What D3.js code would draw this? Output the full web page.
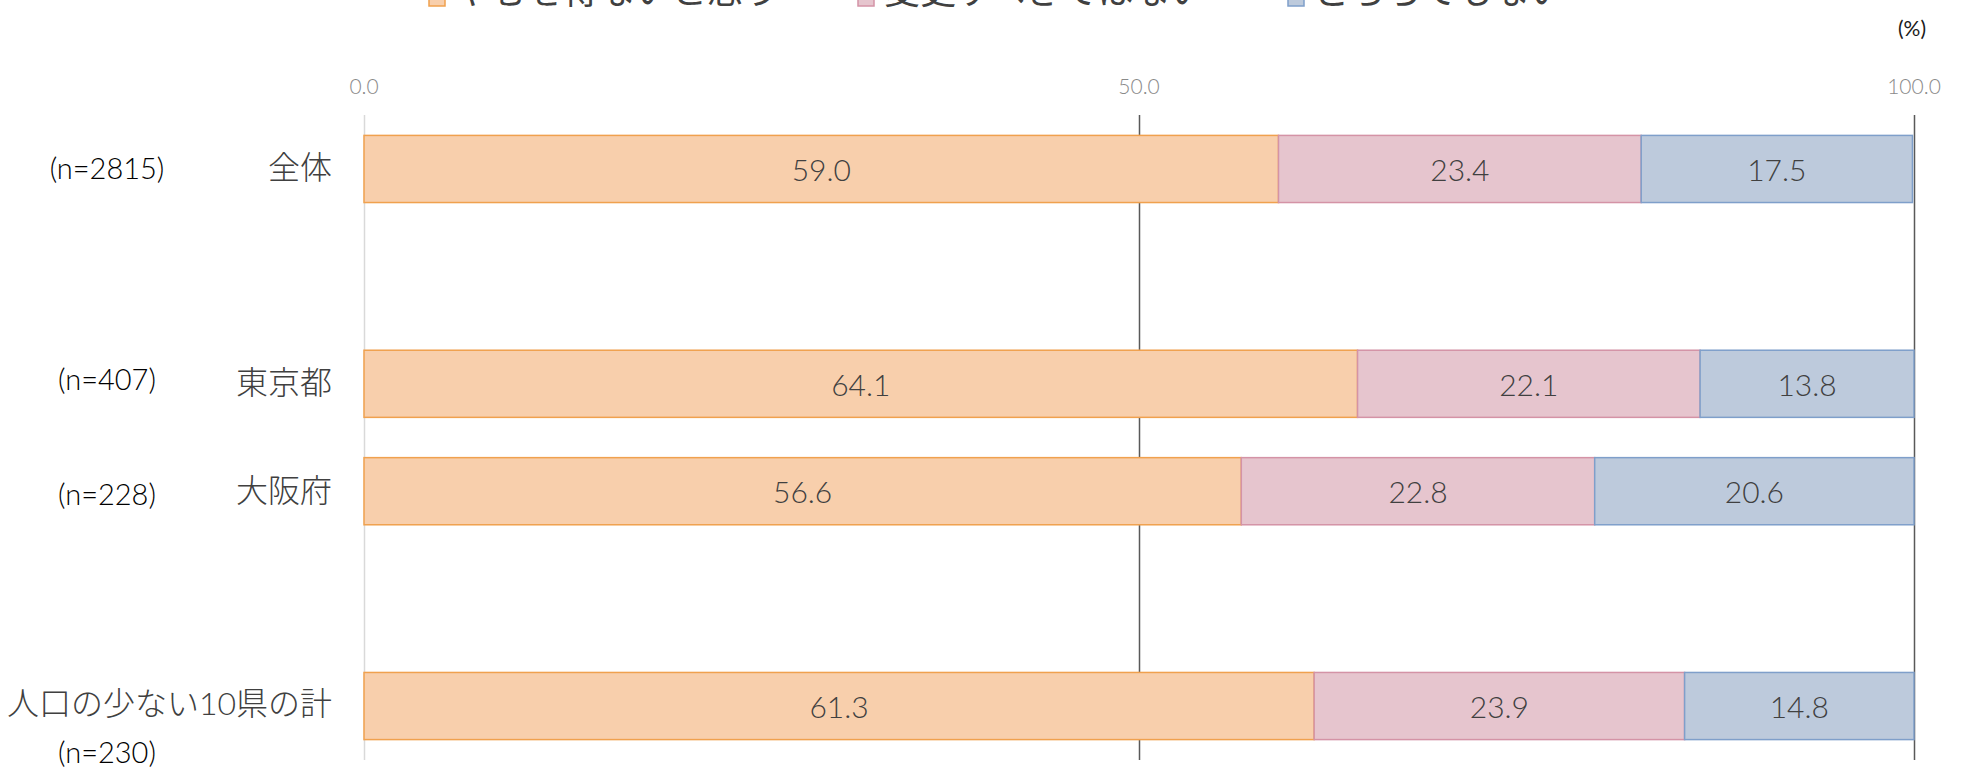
<!DOCTYPE html>
<html>
<head>
<meta charset="utf-8">
<script src="https://cdn.jsdelivr.net/npm/d3@7"></script>
<style>
  body { margin: 0; background: #fff; }
  svg { display: block; font-family: Lato, 'Noto Sans CJK JP', sans-serif; }
</style>
</head>
<body>
<svg id="chart" width="1966" height="769"></svg>
<script>
// rows (gaps are empty slots in the chart)
const rows = ['全体', 'gap1', '東京都', '大阪府', 'gap2', '人口の少ない10県の計'];
const sampleSizes = ['(n=2815)', '', '(n=407)', '(n=228)', '', '(n=230)'];
const seriesNames = ['やむを得ないと思う', '変更すべきではない', 'どちらでもない'];
const acceptValues = [59.0, null, 64.1, 56.6, null, 61.3];
const rejectValues = [23.4, null, 22.1, 22.8, null, 23.9];
const neutralValues = [17.5, null, 13.8, 20.6, null, 14.8];
const ticks = [0, 50, 100];

const fills = ['#f8cfac', '#e6c5ce', '#bdcadc'];
const strokes = ['#f0a14e', '#d493a6', '#7f9fca'];

const svg = d3.select('#chart');
const margin = { top: 115, left: 364, right: 52, bottom: 9 };
const width = 1966 - margin.left - margin.right;
const height = 769 - margin.top - margin.bottom;

const chart = svg.append('g')
    .attr('transform', `translate(${margin.left}, ${margin.top})`);

const x = d3.scaleLinear().domain([0, 100]).range([0, width]);
const y = d3.scaleBand().domain(rows).range([0, 645]).paddingInner(0.375).paddingOuter(0.19);

// grid lines
chart.selectAll('.grid')
    .data(ticks)
    .enter()
    .append('line')
    .attr('x1', d => x(d) + 0.5)
    .attr('x2', d => x(d) + 0.5)
    .attr('y1', 0)
    .attr('y2', height)
    .attr('stroke', d => d === 0 ? '#d9d9d9' : '#595959')
    .attr('stroke-width', 1.5);

// tick labels
chart.selectAll('.tick-label')
    .data(ticks)
    .enter()
    .append('text')
    .attr('x', d => x(d))
    .attr('y', -30)
    .attr('text-anchor', 'middle')
    .attr('dominant-baseline', 'central')
    .attr('fill', '#8a8a8a')
    .attr('font-size', 21)
    .attr('font-weight', 300)
    .text(d => d3.format('.1f')(d));

const table = rows.map((r, i) => ({
    row: r, a: acceptValues[i], b: rejectValues[i], c: neutralValues[i]
})).filter(d => d.a !== null);

const stack = d3.stack().keys(['a', 'b', 'c'])(table);

const layers = chart.selectAll('.layer')
    .data(stack)
    .enter()
    .append('g')
    .attr('fill', (d, i) => fills[i])
    .attr('stroke', (d, i) => strokes[i]);

layers.selectAll('rect')
    .data(d => d)
    .enter()
    .append('rect')
    .attr('x', d => x(d[0]))
    .attr('y', d => y(d.data.row))
    .attr('width', d => x(d[1]) - x(d[0]))
    .attr('height', y.bandwidth())
    .attr('stroke-width', 1.5);

layers.selectAll('text')
    .data(d => d.map(v => ({ v, key: d.key })))
    .enter()
    .append('text')
    .attr('x', d => (x(d.v[0]) + x(d.v[1])) / 2)
    .attr('y', d => y(d.v.data.row) + y.bandwidth() / 2)
    .attr('text-anchor', 'middle')
    .attr('dominant-baseline', 'central')
    .attr('fill', '#404040')
    .attr('stroke', 'none')
    .attr('font-size', 30)
    .attr('font-weight', 300)
    .text(d => d3.format('.1f')(d.v.data[d.key]));

// category labels
chart.selectAll('.cat')
    .data(table)
    .enter()
    .append('text')
    .attr('x', -32)
    .attr('y', d => y(d.row) + y.bandwidth() / 2 - (d.row === '人口の少ない10県の計' ? 4 : 2))
    .attr('text-anchor', 'end')
    .attr('dominant-baseline', 'central')
    .attr('fill', '#404040')
    .attr('font-size', 32)
    .attr('font-weight', 300)
    .text(d => d.row);

// sample sizes
const nOffset = { '全体': -1, '東京都': -5, '大阪府': 2, '人口の少ない10県の計': 45 };
chart.selectAll('.n')
    .data(rows.map((r, i) => ({ row: r, n: sampleSizes[i] })).filter(d => d.n))
    .enter()
    .append('text')
    .attr('x', -257)
    .attr('y', d => y(d.row) + y.bandwidth() / 2 + nOffset[d.row])
    .attr('text-anchor', 'middle')
    .attr('dominant-baseline', 'central')
    .attr('fill', '#000')
    .attr('font-size', 29)
    .attr('font-weight', 300)
    .text(d => d.n);

// unit
svg.append('text')
    .attr('x', 1912)
    .attr('y', 27)
    .attr('text-anchor', 'middle')
    .attr('dominant-baseline', 'central')
    .attr('font-size', 21)
    .attr('fill', '#1a1a1a')
    .text('(%)');

// legend (cut off at the top like the original)
const legendX = [429, 858, 1288];
const legend = svg.selectAll('.legend')
    .data(seriesNames)
    .enter()
    .append('g')
    .attr('transform', (d, i) => `translate(${legendX[i]}, 0)`);

legend.append('rect')
    .attr('x', 0)
    .attr('y', -10)
    .attr('width', 16)
    .attr('height', 16)
    .attr('fill', (d, i) => fills[i])
    .attr('stroke', (d, i) => strokes[i])
    .attr('stroke-width', 1.5);

legend.append('text')
    .attr('x', 26)
    .attr('y', 4)
    .attr('fill', '#404040')
    .attr('font-size', 36)
    .text(d => d);
</script>
</body>
</html>
